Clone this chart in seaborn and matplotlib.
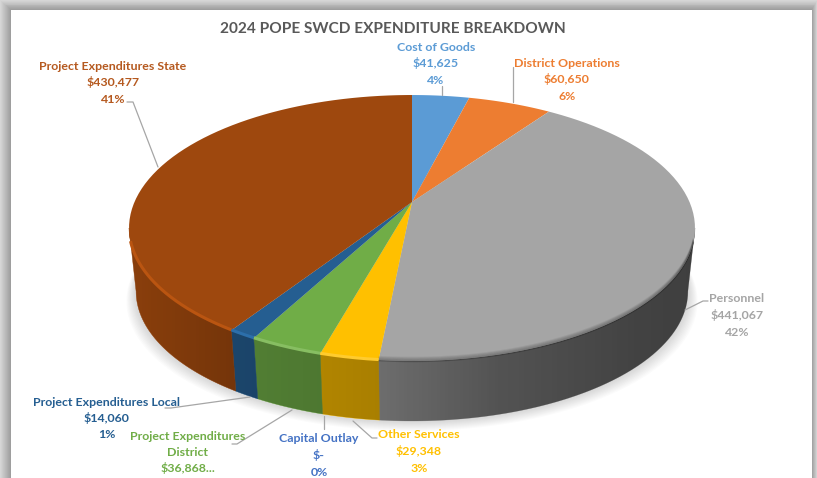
import numpy as np
import matplotlib
matplotlib.use("Agg")
import matplotlib.pyplot as plt
import seaborn as sns
from matplotlib.patches import Rectangle, PathPatch
from matplotlib.path import Path
from matplotlib.transforms import Transform, Affine2D

# ---- data ----
categories = ["Cost of Goods", "District Operations", "Personnel", "Other Services",
              "Capital Outlay", "Project Expenditures\nDistrict", "Project Expenditures Local",
              "Project Expenditures State"]
values = [41625, 60650, 441067, 29348, 0, 36868, 14060, 430477]
amounts = ["$41,625", "$60,650", "$441,067", "$29,348", "$-", "$36,868...", "$14,060", "$430,477"]
percents = ["4%", "6%", "42%", "3%", "0%", "", "1%", "41%"]
hexes = ["#5b9bd5", "#ed7d31", "#a5a5a5", "#ffc000", "#4472c4", "#70ad47", "#255e91", "#9e480e"]
text_hexes = ["#5b9bd5", "#ed7d31", "#a5a5a5", "#ffc000", "#4472c4", "#70ad47", "#255e91", "#b5591f"]
title = "2024 POPE SWCD EXPENDITURE BREAKDOWN"

sns.set_theme(style="white")
plt.rcParams["font.family"] = ["Lato", "DejaVu Sans"]
colors = sns.color_palette(hexes)
text_colors = sns.color_palette(text_hexes)

# ---- layout (pixels) ----
W, H = 817, 478
CX, APEX_Y, AX, BX, K = 412.0, 202.0, 277.5, 127.9, 0.1955
BOTTOM_Y, BOTTOM_SCALE = 266.0, 0.975


def project(u, v, y0=APEX_Y, s=1.0):
    w = 1 + K * v
    return CX + s * AX * u / w, y0 - s * BX * v / w


class Perspective(Transform):
    input_dims = output_dims = 2
    is_separable = False
    has_inverse = False

    def transform_non_affine(self, xy):
        xy = np.asarray(xy, float)
        x, y = project(xy[:, 0], xy[:, 1])
        return np.column_stack([x, y])

    def transform_path_non_affine(self, path):
        polys = path.transformed(Affine2D().scale(800)).to_polygons(closed_only=True)
        verts = [self.transform_non_affine(p / 800) for p in polys]
        return Path.make_compound_path(*[Path(v, closed=True) for v in verts])


fig = plt.figure(figsize=(W / 100, H / 100), dpi=100, facecolor="white")
ax = fig.add_axes([0, 0, 1, 1])

# wedges of the top face, laid out by pie
wedges, _ = ax.pie(values, colors=colors, startangle=90, counterclock=False, radius=1,
                   wedgeprops=dict(linewidth=0, zorder=5))
persp = Perspective()
for w_ in wedges:
    w_.set_transform(persp + ax.transData)

ax.set_aspect("auto")
ax.set_xlim(0, W)
ax.set_ylim(H, 0)
ax.axis("off")

# window frame shadow
ax.add_patch(Rectangle((0, 0), W, H, fc="white", ec="none", zorder=0))
for i in range(11):
    g = 0.84 - 0.022 * i
    ax.add_patch(Rectangle((i, i * 0.9), W - i * 1.45, H, fc=str(g), ec="none", zorder=0.1 + i * 0.01))
ax.add_patch(Rectangle((11, 10), 801, H, fc="white", ec="none", zorder=0.5))

# soft shadow beneath the pie
th = np.linspace(0, 2 * np.pi, 361)
bx, by = project(np.cos(th), np.sin(th), BOTTOM_Y, BOTTOM_SCALE)
for i in range(10):
    grow = 1 + 0.0035 * (10 - i)
    ax.fill(CX + (bx - CX) * grow, by + (10 - i) * 1.0, color="0.5", alpha=0.03, lw=0, zorder=0.8)

# side wall, one strip per slice, limited to the visible front
frac = np.cumsum([0] + values) / np.sum(values)
T_START, T_END = np.pi - np.arccos(K), np.pi + np.arccos(K)
for a, b, c in zip(frac[:-1], frac[1:], colors):
    lo, hi = max(a * 2 * np.pi, T_START), min(b * 2 * np.pi, T_END)
    if hi <= lo:
        continue
    t = np.linspace(lo, hi, 200)
    u, v = np.sin(t), np.cos(t)
    x1, y1 = project(u, v)
    x2, y2 = project(u, v, BOTTOM_Y, BOTTOM_SCALE)
    ax.fill(np.r_[x1, x2[::-1]], np.r_[y1, y2[::-1]], color=c, lw=0.3, zorder=1)

# left-to-right darkening of the wall
t = np.linspace(T_START, T_END, 721)
x1, y1 = project(np.sin(t), np.cos(t))
x2, y2 = project(np.sin(t), np.cos(t), BOTTOM_Y, BOTTOM_SCALE)
wall = Path(np.column_stack([np.r_[x1, x2[::-1]], np.r_[y1, y2[::-1]]]))
xs = np.linspace(120, 700, 300)
shade = np.interp(xs, [125, 232, 380, 500, 640, 700], [0.88, 0.74, 0.66, 0.5, 0.4, 0.38])
rgba = np.zeros((1, len(xs), 4))
rgba[0, :, 3] = 1 - shade
im = ax.imshow(rgba, extent=(120, 700, 430, 150), aspect="auto", zorder=2, interpolation="bilinear")
im.set_clip_path(PathPatch(wall, transform=ax.transData))
ax.set_xlim(0, W)
ax.set_ylim(H, 0)

# bevel along the front rim
for a, b, c, hx in zip(frac[:-1], frac[1:], colors, hexes):
    lo, hi = max(a * 2 * np.pi, T_START + 0.1), min(b * 2 * np.pi, T_END - 0.1)
    if hi <= lo:
        continue
    t = np.linspace(lo, hi, 200)
    x1, y1 = project(np.sin(t), np.cos(t))
    if hx == "#a5a5a5":
        # the grey slice melts into its wall
        for dy, al in zip([-3.5, -2.5, -1.5, -0.5, 0.5], [0.06, 0.1, 0.14, 0.18, 0.2]):
            ax.plot(x1, y1 + dy, color="black", alpha=al, lw=1.1, zorder=5.5, solid_capstyle="butt")
    else:
        hue, light, sat = sns.utils.colorsys.rgb_to_hls(*c)
        lite = sns.set_hls_values(c, l=min(1, light * 1.18))
        ax.plot(x1, y1 - 0.5, color=lite, lw=2.2, zorder=5.5, solid_capstyle="butt")

# leader lines
leaders = [
    ([441.7, 441.7], [86, 95]),
    ([513, 513], [67, 102]),
    ([708, 703, 685], [301, 301, 310]),
    ([324, 324], [416, 429]),
    ([353, 372, 377], [421, 438, 438]),
    ([292, 237, 232], [410, 444, 444]),
    ([250, 171, 165], [397, 408, 408]),
    ([127, 133, 158], [102, 102, 167]),
]
for lx, ly in leaders:
    ax.plot(lx, ly, color="#a6a6a6", lw=0.9, zorder=6)

# labels, one text per line
label_pos = [(436, 46), (567, 62), (737, 298), (419, 434), (319, 438), (188, 435), (107, 401), (113, 65)]
PITCH = 16.5
for name, amt, pct, col, (x, y) in zip(categories, amounts, percents, text_colors, label_pos):
    lines = name.split("\n") + [amt] + ([pct] if pct else [])
    for i, line in enumerate(lines):
        ax.text(x, y + 4.5 + i * PITCH, line, color=col, ha="center", va="baseline", fontsize=8.9,
                fontweight="bold", zorder=7)

ax.text(392.5, 33, title, color="#595959", ha="center", va="baseline", fontsize=11.1,
        fontweight="bold", zorder=7)

fig.savefig("out.png", dpi=100)
